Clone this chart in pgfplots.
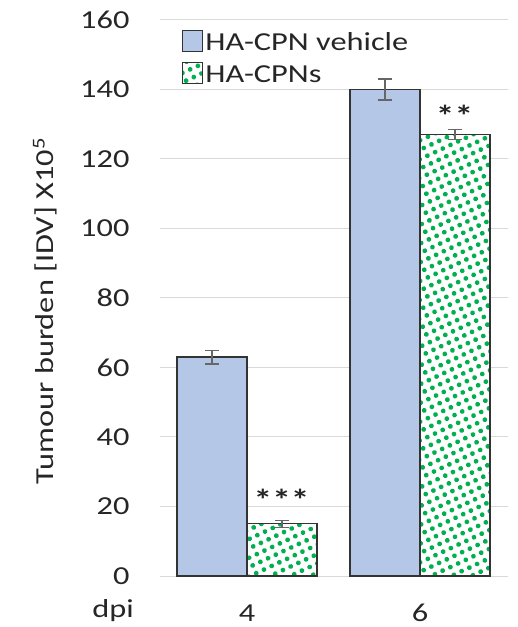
\documentclass[border=0pt]{standalone}
\usepackage{pgfplots}
\pgfplotsset{compat=1.18}
\usepackage{fontspec}
\setmainfont{Carlito}[FakeStretch=1.25]
\usetikzlibrary{patterns.meta}
\definecolor{barblue}{RGB}{180,199,231}
\definecolor{dotgreen}{RGB}{0,176,80}
\begin{document}
\begin{tikzpicture}
\useasboundingbox (-160bp,-51bp) rectangle (358bp,576bp);
\begin{axis}[
  scale only axis, clip=false,
  width=348bp, height=556bp,
  ybar=0pt, bar width=70bp,
  xmin=-0.503, xmax=1.509,
  ymin=0, ymax=160,
  ytick={0,20,...,160},
  xtick={0,1}, xticklabels={4,6},
  ymajorgrids, grid style={draw=black!15, line width=1bp},
  axis x line*=bottom, axis y line*=left,
  y axis line style={draw=none},
  x axis line style={draw=black!15, line width=1bp, -},
  xtick style={draw=none}, ytick style={draw=none},
  tick label style={font=\fontsize{26}{29}\selectfont, text=black!85},
  /pgf/number format/assume math mode=true,
  yticklabel style={xshift=-27bp},
  xticklabel style={anchor=base, yshift=-41bp},
  ylabel={Tumour burden [IDV] X10\textsuperscript{5}},
  every axis y label/.style={at={(rel axis cs:0,0.5)}, xshift=-115bp, yshift=-13bp, rotate=90, anchor=center,
     font=\fontsize{26}{29}\selectfont, text=black!85},
  legend style={draw=none, fill=none, at={(0.06,0.985)}, anchor=north west,
     font=\fontsize{26}{29}\selectfont, text=black!85, row sep=8bp, inner sep=1bp},
  legend cell align=left,
  legend image code/.code={\draw[#1, line width=1.3bp] (-2bp,-9bp) rectangle (18bp,12bp);},
  error bars/y dir=both, error bars/y explicit,
  error bars/error bar style={draw=black!60, line width=1.2bp},
  error bars/error mark options={draw=black!60, line width=1.2bp, mark size=7bp, rotate=90},
]
\addplot[draw=black!80, line width=1.2bp, fill=barblue]
  coordinates {(0,63) +- (0,2) (1,140) +- (0,3)};
\addlegendentry{HA-CPN vehicle}
\addplot[draw=black!80, line width=1.2bp, fill=white,
  postaction={pattern={Dots[distance=8.5bp, radius=2.4bp, angle=25]}, pattern color=dotgreen}]
  coordinates {(0,15) +- (0,1) (1,127) +- (0,1.5)};
\addlegendentry{HA-CPNs}
\node[font=\fontsize{30}{30}\selectfont\bfseries, text=black!85] at (axis cs:0.2,22) {***};
\node[font=\fontsize{30}{30}\selectfont\bfseries, text=black!85] at (axis cs:1.2,132.5) {**};
\node[font=\fontsize{26}{29}\selectfont, text=black!85, anchor=base] at (axis description cs:-0.135,-0.074) {dpi};
\end{axis}
\end{tikzpicture}
\end{document}
